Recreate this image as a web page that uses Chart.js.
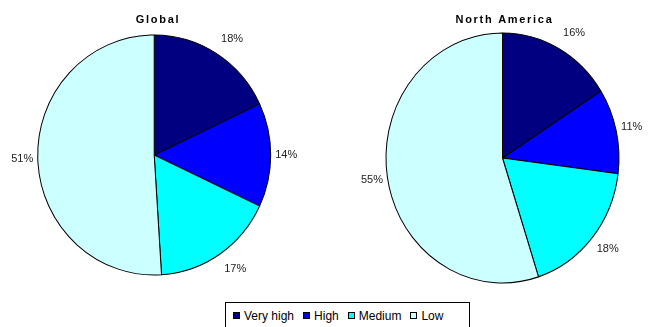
<!DOCTYPE html>
<html>
<head>
<meta charset="utf-8">
<script src="https://cdn.jsdelivr.net/npm/chart.js@4.4.0/dist/chart.umd.min.js"></script>
<style>
body{margin:0;background:#fff;width:649px;height:327px;position:relative;overflow:hidden;font-family:Arial,"Liberation Sans",sans-serif}
.pie{position:absolute;top:0;height:300px}
#globalPie{left:0;width:324px}
#naPie{left:324px;width:325px}
#legend{position:absolute;left:225px;top:302px;width:245px;height:30px;border:1px solid #000;box-sizing:border-box;padding:5px 0 0 7px;font-size:12px;line-height:14px;white-space:nowrap}
#legend .item{display:inline-flex;align-items:center;margin-right:9px}
#legend .box{display:inline-block;width:7px;height:7px;border:1px solid #000;box-sizing:border-box;margin-right:4px}
</style>
</head>
<body>
<div class="pie" id="globalPie"><canvas id="globalChart"></canvas></div>
<div class="pie" id="naPie"><canvas id="naChart"></canvas></div>
<div id="legend"></div>
<script>
const categories = ["Very high", "High", "Medium", "Low"];
const globalValues = [18, 14, 17, 51];
const northAmericaValues = [16, 11, 18, 55];
const sliceColors = ["#000080", "#0000FF", "#00FFFF", "#CCFFFF"];

// squashes the pie a bit vertically like the original, then puts % labels and title on
const ellipsePlugin = {
  id: 'ellipse',
  beforeDatasetsDraw(chart, args, opts) {
    const arc = chart.getDatasetMeta(0).data[0];
    const ctx = chart.ctx;
    ctx.save();
    ctx.translate(arc.x, arc.y);
    ctx.scale(1, opts.stretchY);
    ctx.translate(-arc.x, -arc.y);
  },
  afterDatasetsDraw(chart, args, opts) {
    const ctx = chart.ctx;
    ctx.restore();
    const meta = chart.getDatasetMeta(0);
    const values = chart.data.datasets[0].data;
    ctx.save();
    ctx.font = '11px Arial, "Liberation Sans", sans-serif';
    ctx.fillStyle = '#222';
    ctx.textAlign = 'center';
    ctx.textBaseline = 'middle';
    meta.data.forEach((arc, i) => {
      const mid = (arc.startAngle + arc.endAngle) / 2;
      const c = Math.cos(mid), s = Math.sin(mid);
      const x = arc.x + arc.outerRadius * c + 15.5 * Math.sign(c);
      const y = arc.y + arc.outerRadius * opts.stretchY * s + 18 * s;
      ctx.fillText(values[i] + '%', x, y);
    });
    ctx.font = 'bold 11px Arial, "Liberation Sans", sans-serif';
    ctx.fillStyle = '#000';
    ctx.letterSpacing = '1.7px';
    ctx.fillText(opts.title, opts.titleX, 20);
    ctx.restore();
  }
};

function makePie(id, values, title, titleX, stretchY, padding) {
  return new Chart(document.getElementById(id), {
    type: 'pie',
    data: {
      labels: categories,
      datasets: [{
        data: values,
        backgroundColor: sliceColors,
        borderColor: '#000',
        borderWidth: 1
      }]
    },
    options: {
      responsive: true,
      maintainAspectRatio: false,
      animation: false,
      events: [],
      radius: 116.5,
      layout: { padding: padding },
      plugins: {
        legend: { display: false },
        tooltip: { enabled: false },
        ellipse: { title: title, titleX: titleX, stretchY: stretchY }
      }
    },
    plugins: [ellipsePlugin]
  });
}

makePie('globalChart', globalValues, 'Global', 158, 120 / 116.5, { left: 0, right: 15.6, top: 10, bottom: 0 });
makePie('naChart', northAmericaValues, 'North America', 180.5, 125 / 116.5, { left: 32, right: 0, top: 16, bottom: 0 });

const legend = document.getElementById('legend');
categories.forEach((name, i) => {
  const item = document.createElement('span');
  item.className = 'item';
  const box = document.createElement('span');
  box.className = 'box';
  box.style.background = sliceColors[i];
  item.appendChild(box);
  item.appendChild(document.createTextNode(name));
  legend.appendChild(item);
});
</script>
</body>
</html>
